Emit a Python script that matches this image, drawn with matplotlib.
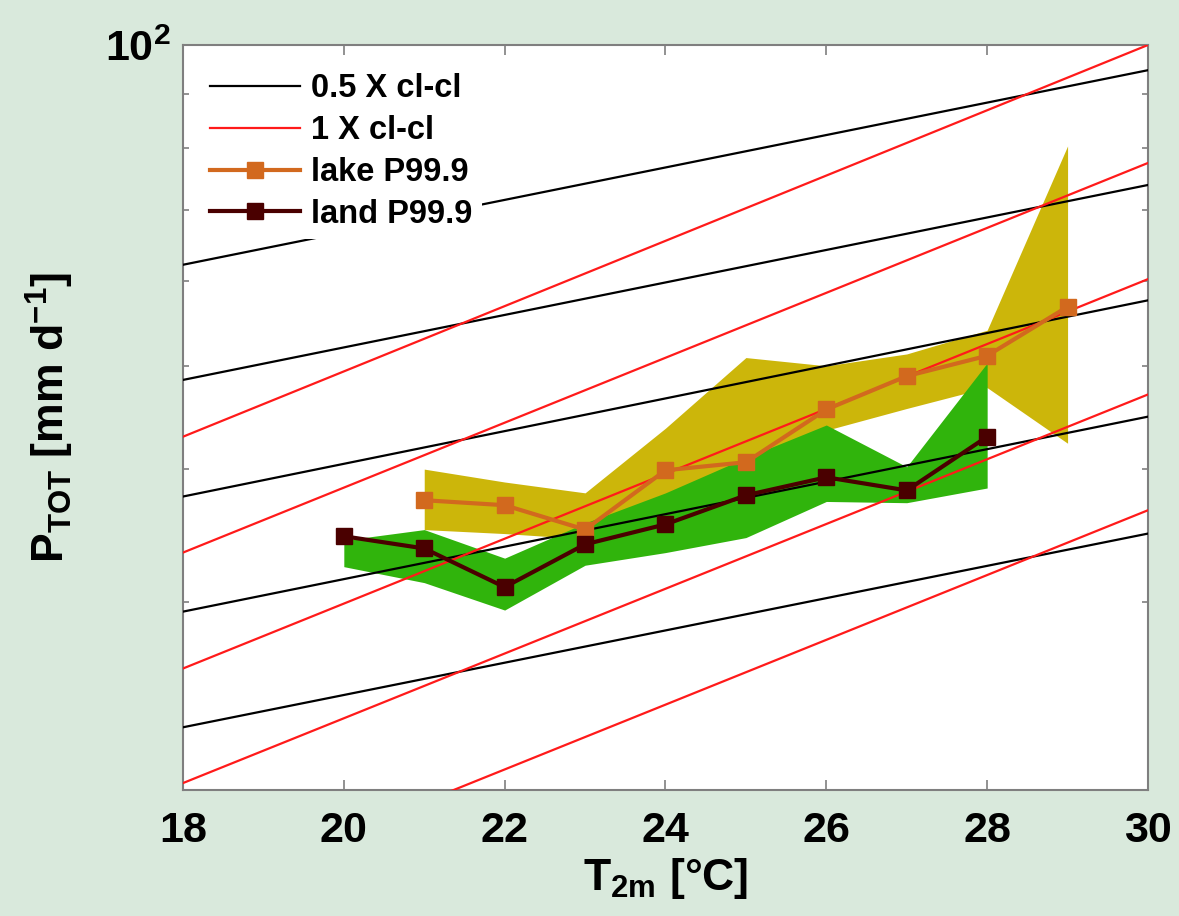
import matplotlib
matplotlib.use('Agg')
import matplotlib.pyplot as plt
from matplotlib.ticker import LogLocator, NullFormatter, FixedLocator

plt.rcParams['font.family'] = ['Liberation Sans', 'DejaVu Sans']
plt.rcParams['font.weight'] = 'bold'
plt.rcParams['axes.labelweight'] = 'bold'
plt.rcParams['mathtext.fontset'] = 'custom'
plt.rcParams['mathtext.rm'] = 'Liberation Sans:bold'
plt.rcParams['mathtext.it'] = 'Liberation Sans:bold'
plt.rcParams['mathtext.bf'] = 'Liberation Sans:bold'

# Clausius-Clapeyron reference lines: values at T=18 and T=30
cc_t = [18, 30]
cc_half_start = [62.2, 48.5, 37.7, 29.4, 22.9]
cc_half_end = [94.7, 73.9, 57.6, 44.8, 34.8]
cc_one_start = [42.9, 33.4, 26.0, 20.3, 15.8]
cc_one_end = [100.0, 77.5, 60.3, 47.0, 36.6]

# lake P99.9
lake_t = [21, 22, 23, 24, 25, 26, 27, 28, 29]
lake_p = [37.4, 37.0, 35.1, 39.9, 40.6, 45.5, 48.9, 51.1, 56.8]
lake_hi = [40.0, 38.9, 38.0, 43.7, 50.9, 50.0, 51.3, 54.0, 80.4]
lake_lo = [35.1, 34.8, 34.4, 35.0, 37.5, 43.5, 45.6, 47.7, 42.3]

# land P99.9
land_t = [20, 21, 22, 23, 24, 25, 26, 27, 28]
land_p = [34.6, 33.7, 31.0, 34.0, 35.5, 37.8, 39.3, 38.2, 42.9]
land_hi = [34.3, 35.1, 33.0, 35.6, 38.0, 41.0, 44.0, 40.2, 50.3]
land_lo = [32.4, 31.3, 29.5, 32.5, 33.4, 34.5, 37.3, 37.2, 38.4]

bg = '#D9E9DC'
fig = plt.figure(figsize=(11.79, 9.16), dpi=100, facecolor=bg)
ax = fig.add_axes([0.1552, 0.1376, 0.8185, 0.8133])

ax.fill_between(lake_t, lake_lo, lake_hi, color='#CCB60A', linewidth=0, zorder=1)
ax.fill_between(land_t, land_lo, land_hi, color='#30B40C', linewidth=0, zorder=2)

for i in range(len(cc_half_start)):
    ax.plot(cc_t, [cc_half_start[i], cc_half_end[i]], color='black', lw=1.6, zorder=3,
            label='0.5 X cl-cl' if i == 0 else None)
for i in range(len(cc_one_start)):
    ax.plot(cc_t, [cc_one_start[i], cc_one_end[i]], color='#FF1A1A', lw=1.6, zorder=3,
            label='1 X cl-cl' if i == 0 else None)

ax.plot(lake_t, lake_p, color='#D2691E', lw=3, marker='s', markersize=11, zorder=4,
        label='lake P99.9')
ax.plot(land_t, land_p, color='#4A0000', lw=3, marker='s', markersize=11, zorder=5,
        label='land P99.9')

ax.set_yscale('log')
ax.set_xlim(18, 30)
ax.set_ylim(20, 100)
ax.set_xticks([18, 20, 22, 24, 26, 28, 30])
ax.yaxis.set_major_locator(FixedLocator([100]))
ax.yaxis.set_minor_locator(LogLocator(base=10, subs=range(2, 10)))
ax.yaxis.set_minor_formatter(NullFormatter())

ax.tick_params(which='both', direction='in', top=True, right=True, colors='#7f7f7f',
               labelcolor='black', labelsize=31)
ax.tick_params(which='major', length=7, width=1.2)
ax.tick_params(which='minor', length=4, width=1.2)
ax.tick_params(axis='x', which='major', pad=15)
ax.tick_params(axis='y', which='major', pad=9)
for s in ax.spines.values():
    s.set_color('#7f7f7f')
    s.set_linewidth(1.5)

ax.set_xlabel(r'T$_{\mathrm{2m}}$ [°C]', fontsize=32, labelpad=4)
ax.set_ylabel(r'P$_{\mathrm{TOT}}$ [mm d$^{\mathrm{-1}}$]', fontsize=32, labelpad=21)

leg = ax.legend(loc='upper left', bbox_to_anchor=(0.018, 0.975), fontsize=23.5,
                frameon=True, facecolor='white', edgecolor='none', framealpha=1,
                handlelength=2.75, handletextpad=0.35, labelspacing=0.33,
                borderpad=0.3, borderaxespad=0)
leg.get_frame().set_boxstyle('square', pad=0)
leg.set_zorder(6)

fig.savefig('out.png', dpi=100, facecolor=bg)
